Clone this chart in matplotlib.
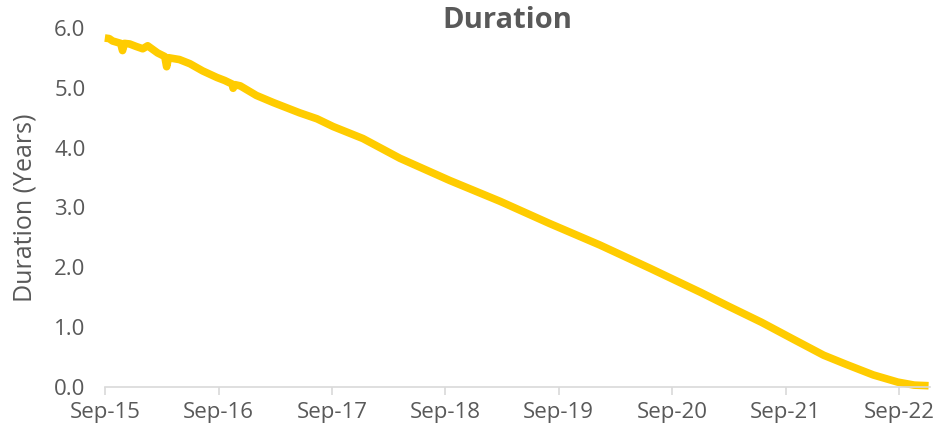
import matplotlib
matplotlib.use("Agg")
import matplotlib.pyplot as plt
import pandas as pd

# valores (duração em anos)
dates = [
    "2015-09-01", "2015-09-15", "2015-09-26", "2015-10-22", "2015-10-28", "2015-11-03",
    "2015-11-20", "2015-12-10", "2016-01-01", "2016-01-17", "2016-02-18", "2016-03-12",
    "2016-03-18", "2016-03-24", "2016-04-28", "2016-06-01", "2016-07-12", "2016-08-27",
    "2016-09-21", "2016-10-15", "2016-10-18", "2016-10-24", "2016-11-10", "2017-01-01",
    "2017-02-25", "2017-05-20", "2017-07-15", "2017-09-05", "2017-12-10", "2018-04-08",
    "2018-09-15", "2019-02-25", "2019-08-03", "2020-01-12", "2020-06-22", "2020-12-01",
    "2021-02-28", "2021-06-15", "2021-09-28", "2021-10-20", "2022-01-01", "2022-03-18",
    "2022-06-10", "2022-08-28", "2022-10-20", "2022-12-05",
]
duration = [
    5.83, 5.82, 5.78, 5.74, 5.62, 5.74,
    5.73, 5.69, 5.65, 5.70, 5.58, 5.52,
    5.35, 5.50, 5.47, 5.40, 5.28, 5.17,
    5.12, 5.06, 4.99, 5.05, 5.03, 4.87,
    4.75, 4.58, 4.48, 4.35, 4.15, 3.82,
    3.45, 3.10, 2.73, 2.37, 1.98, 1.58,
    1.35, 1.08, 0.79, 0.73, 0.53, 0.37,
    0.20, 0.08, 0.03, 0.02,
]
tick_labels = ["Sep-15", "Sep-16", "Sep-17", "Sep-18", "Sep-19", "Sep-20", "Sep-21", "Sep-22"]

x = pd.to_datetime(dates)
ticks = [pd.Timestamp(f"20{lab[-2:]}-09-01") for lab in tick_labels]

grey = "#595959"
plt.rcParams["font.family"] = ["Open Sans", "DejaVu Sans"]

fig = plt.figure(figsize=(9.53, 4.28), dpi=100)
ax = fig.add_axes([0.110, 0.096, 0.866, 0.839])

ax.plot(x, duration, color="#FFCC00", linewidth=5.5, solid_capstyle="butt", clip_on=False)

ax.set_xlim(pd.Timestamp("2015-09-01"), pd.Timestamp("2022-12-10"))
ax.set_ylim(0, 6)
ax.set_yticks([0, 1, 2, 3, 4, 5, 6])
ax.set_yticklabels([f"{v:.1f}" for v in [0, 1, 2, 3, 4, 5, 6]])
ax.set_xticks(ticks)
ax.set_xticklabels(tick_labels)

for s in ["top", "right", "left"]:
    ax.spines[s].set_visible(False)
ax.spines["bottom"].set_color("#D9D9D9")
ax.spines["bottom"].set_linewidth(1.2)

ax.tick_params(axis="x", colors="#D9D9D9", labelcolor=grey, labelsize=16, length=6, width=1.2, pad=5)
ax.tick_params(axis="y", length=0, labelcolor=grey, labelsize=16, pad=14)

ax.set_ylabel("Duration (Years)", color=grey, fontsize=18, labelpad=12)
fig.text(0.532, 0.952, "Duration", ha="center", va="center", color=grey, fontsize=21, fontweight="bold")

fig.savefig("out.png", dpi=100)
